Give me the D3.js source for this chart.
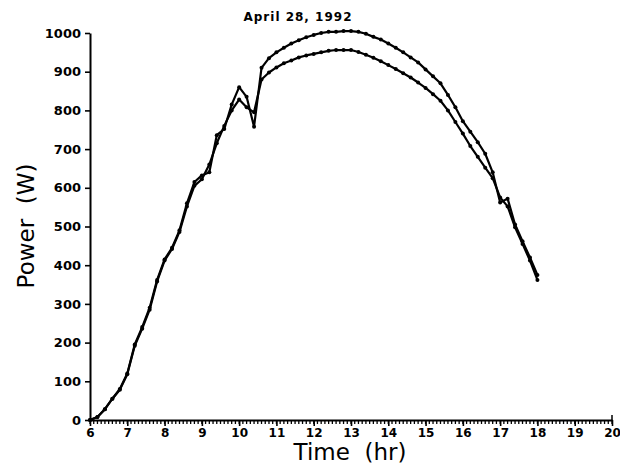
<!doctype html>
<html>
<head>
<meta charset="utf-8">
<script src="https://d3js.org/d3.v7.min.js"></script>
<style>
  body { margin: 0; background: #fff; }
  .tick text { font-family: "DejaVu Sans", sans-serif; font-weight: bold; }
  .title { font-family: "DejaVu Sans", sans-serif; }
</style>
</head>
<body>
<svg width="620" height="465"></svg>
<script>
// time of day (hr)
var times = [
  6.0, 6.2, 6.4, 6.6, 6.8, 7.0, 7.2, 7.4, 7.6, 7.8,
  8.0, 8.2, 8.4, 8.6, 8.8, 9.0, 9.2, 9.4, 9.6, 9.8,
  10.0, 10.2, 10.4, 10.6, 10.8, 11.0, 11.2, 11.4, 11.6, 11.8,
  12.0, 12.2, 12.4, 12.6, 12.8, 13.0, 13.2, 13.4, 13.6, 13.8,
  14.0, 14.2, 14.4, 14.6, 14.8, 15.0, 15.2, 15.4, 15.6, 15.8,
  16.0, 16.2, 16.4, 16.6, 16.8, 17.0, 17.2, 17.4, 17.6, 17.8,
  18.0
];

// power (W), upper curve
var powerA = [
  0, 8, 28, 55, 80, 120, 195, 240, 290, 362,
  415, 445, 490, 560, 615, 632, 640, 736, 752, 815,
  860, 835, 758, 910, 935, 950, 962, 973, 981, 989,
  995, 1000, 1003, 1003, 1005, 1005, 1003, 998, 990, 983,
  973, 962, 950, 937, 924, 906, 888, 870, 840, 808,
  772, 745, 718, 688, 640, 562, 572, 505, 462, 420,
  375
];

// power (W), lower curve
var powerB = [
  0, 8, 28, 55, 78, 118, 192, 236, 285, 358,
  412, 442, 486, 552, 605, 622, 660, 715, 760, 800,
  828, 808, 795, 880, 898, 911, 922, 929, 937, 942,
  946, 950, 954, 956, 956, 956, 951, 944, 936, 927,
  917, 907, 896, 885, 872, 858, 842, 825, 800, 770,
  740, 708, 680, 652, 625, 575, 552, 498, 455, 412,
  362
];

var xTicks = [6, 7, 8, 9, 10, 11, 12, 13, 14, 15, 16, 17, 18, 19, 20];
var yTicks = [0, 100, 200, 300, 400, 500, 600, 700, 800, 900, 1000];

var svg = d3.select("svg");

var x = d3.scaleLinear().domain([6, 20]).range([90, 612]);
var y = d3.scaleLinear().domain([0, 1000]).range([420, 33]);

// minor ticks on the time axis, every 0.1 hr
var minor = d3.range(60, 201).map(function(d) { return d / 10; });
svg.append("g")
  .selectAll("line")
  .data(minor)
  .enter()
  .append("line")
  .attr("x1", function(d) { return x(d); })
  .attr("x2", function(d) { return x(d); })
  .attr("y1", 420)
  .attr("y2", 424)
  .style("stroke", "#000")
  .style("stroke-width", 1.3);

// major ticks + labels
var xg = svg.append("g")
  .attr("transform", "translate(0,420)")
  .call(d3.axisBottom(x).tickValues(xTicks).tickSize(6).tickSizeOuter(0).tickPadding(2)
    .tickFormat(d3.format("d")));
xg.select(".domain").attr("stroke-width", 2);
xg.selectAll("line").attr("stroke-width", 1.6);
xg.selectAll("text").style("font-size", "12px");

// little upturn at the right end of the time axis
svg.append("line")
  .attr("x1", x(20)).attr("x2", x(20))
  .attr("y1", 420).attr("y2", 415)
  .style("stroke", "#000")
  .style("stroke-width", 1.5);

var yg = svg.append("g")
  .attr("transform", "translate(90,0)")
  .call(d3.axisLeft(y).tickValues(yTicks).tickSize(5).tickSizeOuter(0).tickPadding(4)
    .tickFormat(d3.format("d")));
yg.select(".domain").attr("stroke-width", 2);
yg.selectAll("line").attr("stroke-width", 1.6);
yg.selectAll("text").style("font-size", "13px");

// the two power curves
var series = [powerA, powerB];
var line = d3.line()
  .x(function(d, i) { return x(times[i]); })
  .y(function(d) { return y(d); });

series.forEach(function(s) {
  svg.append("path")
    .datum(s)
    .attr("d", line)
    .style("fill", "none")
    .style("stroke", "#000")
    .style("stroke-width", 2.2)
    .style("stroke-linejoin", "round");

  svg.append("g")
    .selectAll("circle")
    .data(s)
    .enter()
    .append("circle")
    .attr("cx", function(d, i) { return x(times[i]); })
    .attr("cy", function(d) { return y(d); })
    .attr("r", 2)
    .style("fill", "#000");
});

// titles
svg.append("text")
  .attr("class", "title")
  .attr("x", 298)
  .attr("y", 21)
  .attr("text-anchor", "middle")
  .style("font-size", "12px")
  .style("font-weight", "bold")
  .style("letter-spacing", "1px")
  .text("April 28, 1992");

svg.append("text")
  .attr("class", "title")
  .attr("x", 350)
  .attr("y", 460)
  .attr("text-anchor", "middle")
  .style("font-size", "23px")
  .attr("xml:space", "preserve")
  .text("Time  (hr)");

svg.append("text")
  .attr("class", "title")
  .attr("transform", "translate(34,226) rotate(-90)")
  .attr("text-anchor", "middle")
  .style("font-size", "23px")
  .attr("xml:space", "preserve")
  .text("Power  (W)");
</script>
</body>
</html>
